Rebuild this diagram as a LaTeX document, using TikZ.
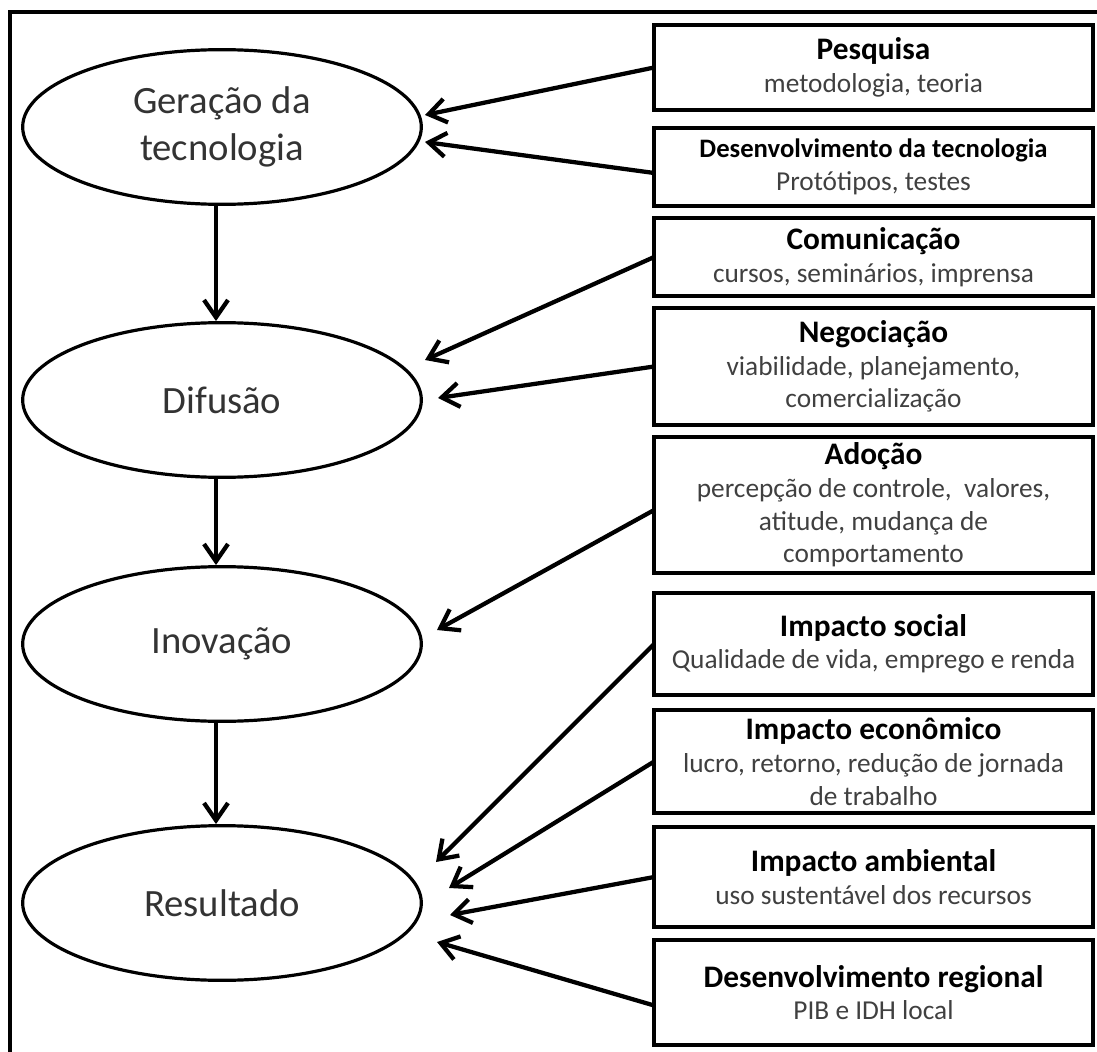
\documentclass[tikz,border=0pt]{standalone}
\usepackage{fontspec}
\setmainfont{Carlito}
\usetikzlibrary{positioning,arrows.meta,shapes.geometric}
\newcommand{\hdr}[1]{{\fontsize{23.5}{24.5}\selectfont\bfseries\color{black}#1}}

\begin{document}
\begin{tikzpicture}[x=0.75pt,y=-0.75pt]
\tikzstyle{etapa}=[ellipse,draw,line width=2.4pt,minimum width=299pt,minimum height=116pt,inner sep=0pt,text=black!80,font=\fontsize{29}{35}\selectfont,align=center]
\tikzstyle{fator}=[rectangle,draw,line width=2.8pt,outer sep=0pt,minimum width=329pt,inner sep=1pt,text=black!75,font=\fontsize{20.5}{24.5}\selectfont,align=center]
\tikzstyle{seta}=[-{Straight Barb[length=13pt,width=18pt]},line width=3.2pt]
\useasboundingbox (0,0) rectangle (1097,1052);
\clip (0,0) rectangle (1097,1052);
\draw[line width=2.6pt] (10,12) rectangle (1120,1080);
% etapas
\node (ger) [etapa] at (222,127) {Geração da\\tecnologia};
\node (dif) [etapa] at (222,400) {Difusão};
\node (ino) [etapa] at (222,644) {Inovação};
\node (res) [etapa] at (222,903) {Resultado};
\draw[seta] ([xshift=-4.5pt]ger.south) -- ([xshift=-4.5pt]dif.north);
\draw[seta] ([xshift=-4.5pt]dif.south) -- ([xshift=-4.5pt]ino.north);
\draw[seta] ([xshift=-4.5pt]ino.south) -- ([xshift=-4.5pt]res.north);
% fatores
\node (pesq) [fator,minimum height=63.75pt] at (873.5,67.5) {\hdr{Pesquisa}\\metodologia, teoria};
\node (dtec) [fator,minimum height=58.5pt,below=13.5pt of pesq] {{\fontsize{20}{24.5}\selectfont\bfseries\color{black}Desenvolvimento da tecnologia}\\Protótipos, testes};
\node (com) [fator,minimum height=58.5pt,below=9pt of dtec] {\hdr{Comunicação}\\cursos, seminários, imprensa};
\node (neg) [fator,minimum height=87.75pt,below=9pt of com] {\hdr{Negociação}\\viabilidade, planejamento,\\comercialização};
\node (ado) [fator,minimum height=102pt,below=9pt of neg] {\hdr{Adoção}\\percepção de controle,\ \ valores,\\atitude, mudança de\\comportamento};
\node (soc) [fator,minimum height=76.5pt,below=15pt of ado] {\hdr{Impacto social}\\Qualidade de vida, emprego e renda};
\node (eco) [fator,minimum height=77.25pt,below=11.25pt of soc] {\hdr{Impacto econômico}\\lucro, retorno, redução de jornada\\de trabalho};
\node (amb) [fator,minimum height=75pt,below=10.5pt of eco] {\hdr{Impacto ambiental}\\uso sustentável dos recursos};
\node (reg) [fator,minimum height=78.75pt,below=9.75pt of amb] {\hdr{Desenvolvimento regional}\\PIB e IDH local};
% pontas das setas
\coordinate (p1) at (425,115);
\coordinate (p2) at (425,142);
\coordinate (p3) at (425,360);
\coordinate (p4) at (438,398);
\coordinate (p5) at (437,630);
\coordinate (p6) at (436,862);
\coordinate (p7) at (449,888);
\coordinate (p8) at (450,915);
\coordinate (p9) at (437,942);
\draw[seta] (pesq.west) -- (p1);
\draw[seta] ([yshift=-4.5pt]dtec.west) -- (p2);
\draw[seta] (com.west) -- (p3);
\draw[seta] (neg.west) -- (p4);
\draw[seta] ([yshift=-3.75pt]ado.west) -- (p5);
\draw[seta] (soc.west) -- (p6);
\draw[seta] (eco.west) -- (p7);
\draw[seta] (amb.west) -- (p8);
\draw[seta] ([yshift=-9.75pt]reg.west) -- (p9);
\end{tikzpicture}
\end{document}
